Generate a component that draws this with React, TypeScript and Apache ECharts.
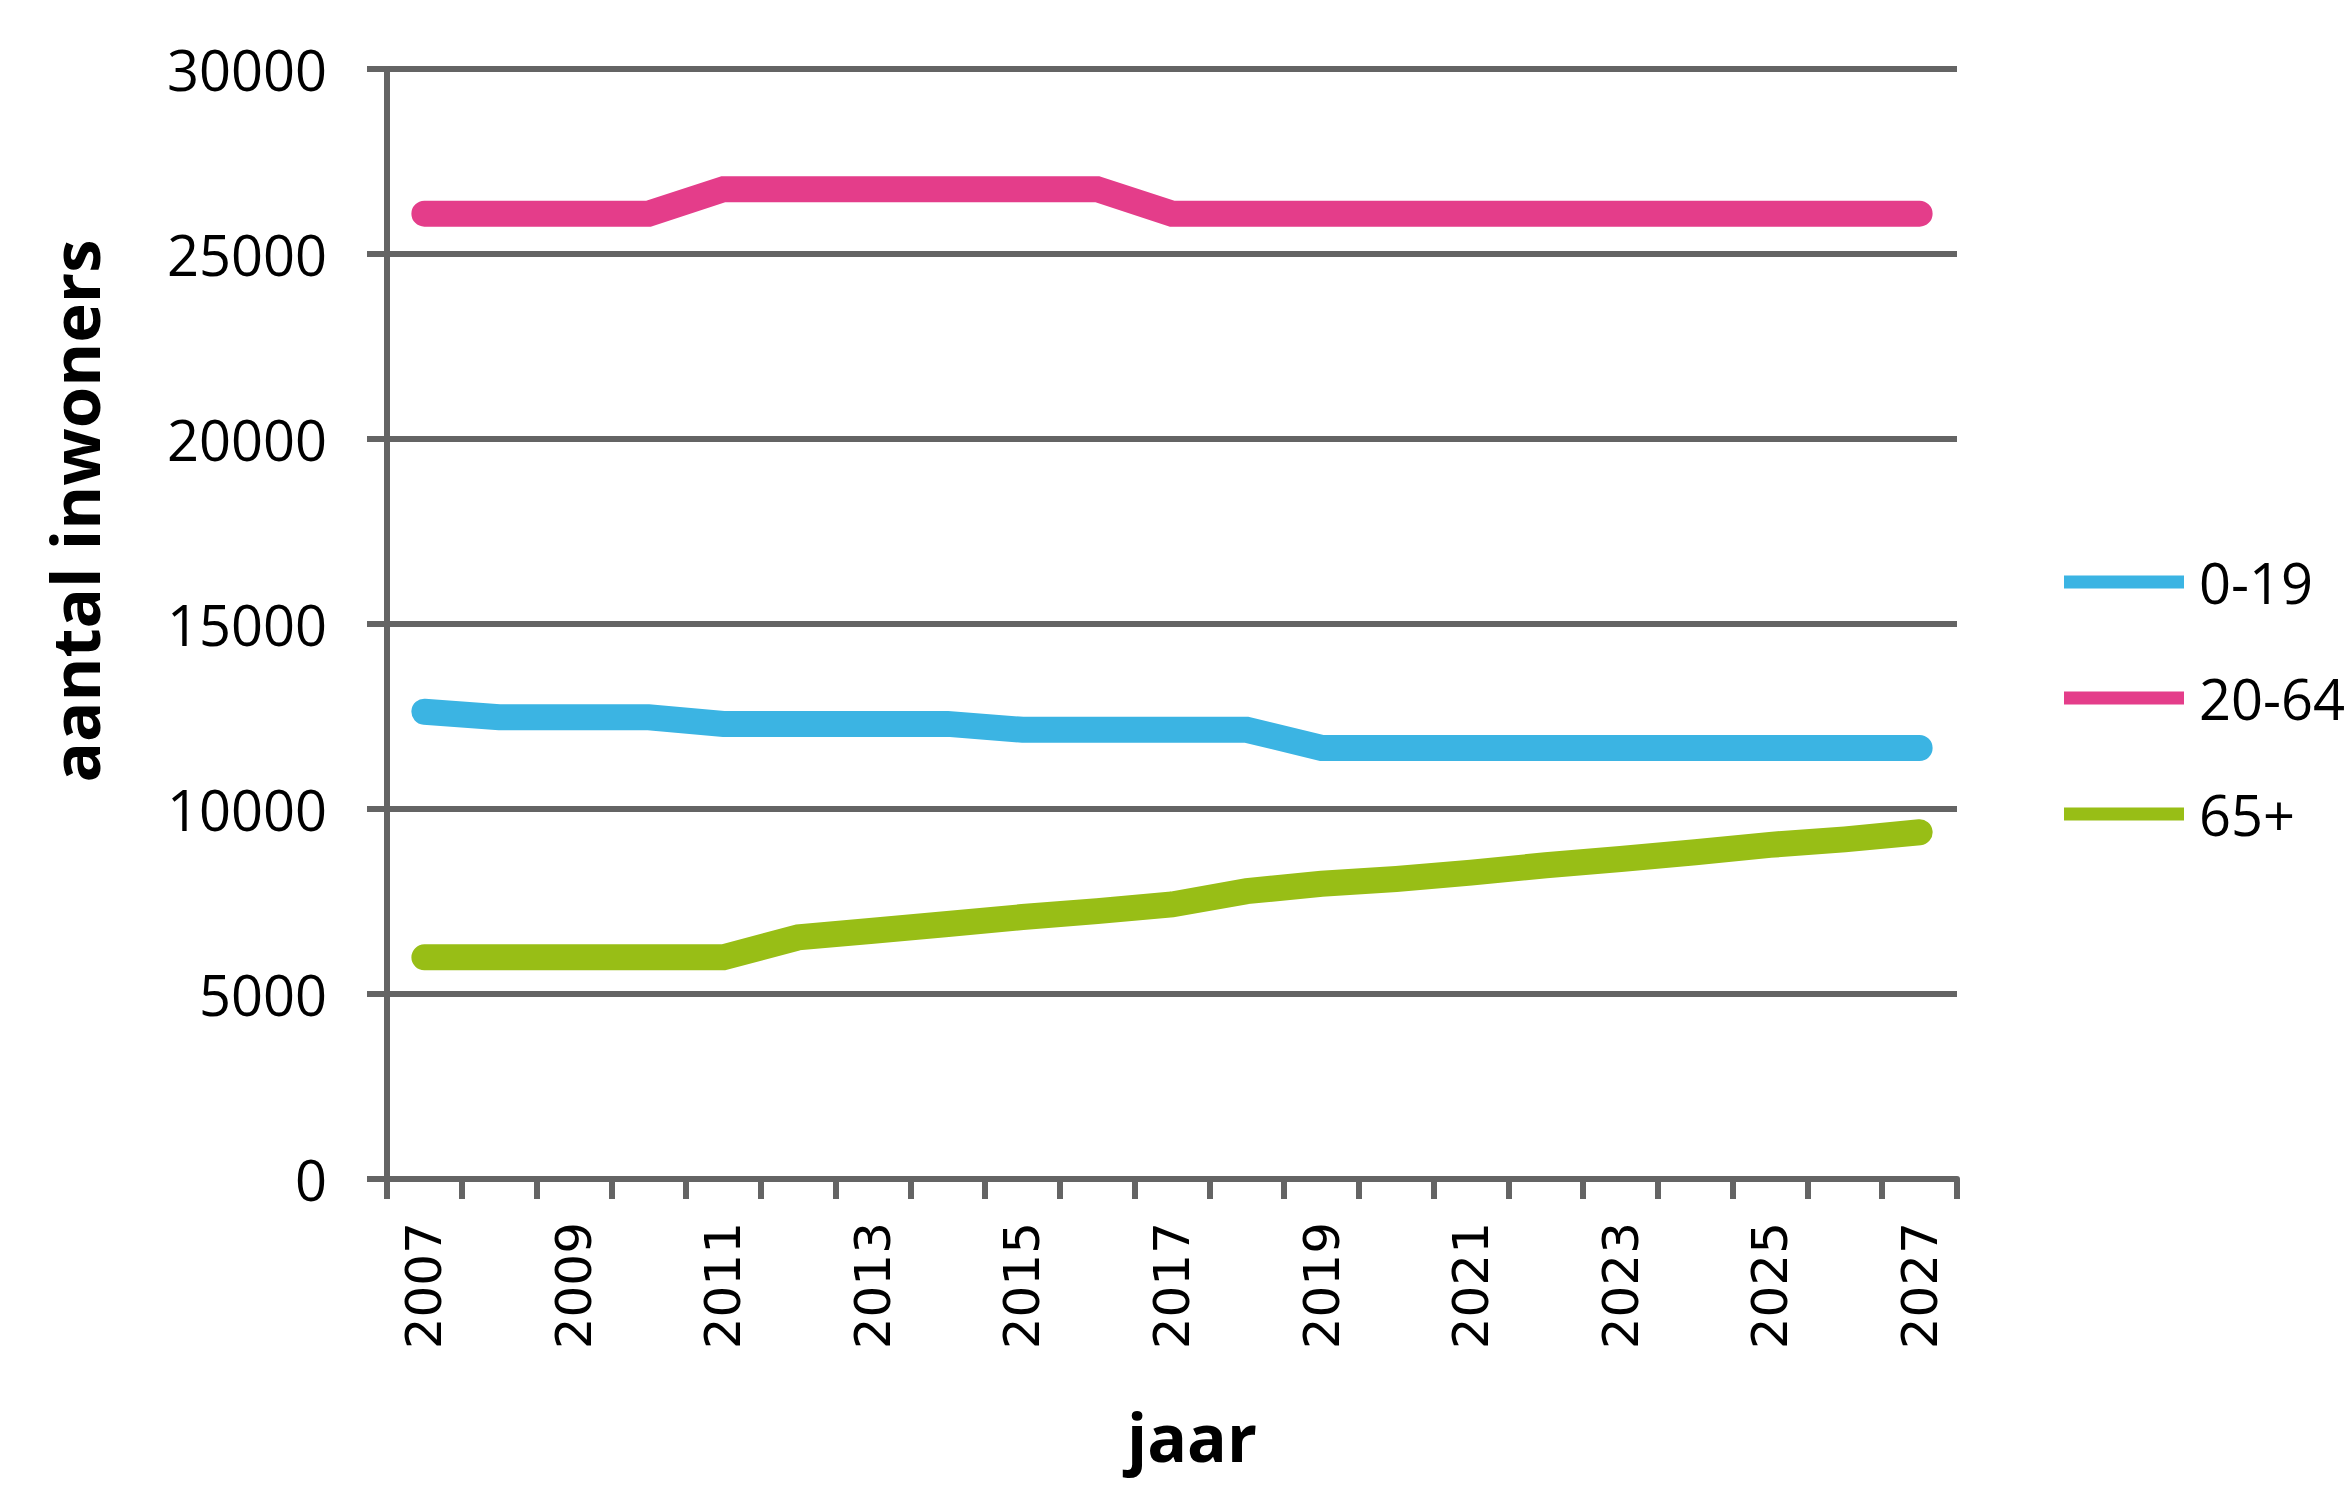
import React, { useEffect, useRef } from "react";
import * as echarts from "echarts";

const years = [
  "2007", "2008", "2009", "2010", "2011", "2012", "2013", "2014", "2015", "2016", "2017",
  "2018", "2019", "2020", "2021", "2022", "2023", "2024", "2025", "2026", "2027",
];

const age0to19 = [
  12630, 12480, 12480, 12480, 12300, 12300, 12300, 12300, 12140, 12140, 12140,
  12140, 11650, 11650, 11650, 11650, 11650, 11650, 11650, 11650, 11650,
];

const age20to64 = [
  26090, 26090, 26090, 26090, 26750, 26750, 26750, 26750, 26750, 26750, 26090,
  26090, 26090, 26090, 26090, 26090, 26090, 26090, 26090, 26090, 26090,
];

const age65plus = [
  5990, 5990, 5990, 5990, 5990, 6530, 6710, 6890, 7080, 7240, 7420,
  7780, 7980, 8110, 8280, 8480, 8650, 8830, 9030, 9180, 9370,
];

const seriesNames = ["0-19", "20-64", "65+"];
const seriesColors = ["#3BB4E3", "#E43D8A", "#98BE16"];

const yMin = 0;
const yMax = 30000;
const yStep = 5000;

const yTitle = "aantal inwoners";
const xTitle = "jaar";

const axisGray = "#646464";

export default function App() {
  const ref = useRef<HTMLDivElement>(null);

  useEffect(() => {
    if (!ref.current) return;
    const chart = echarts.init(ref.current, undefined, { renderer: "svg" });
    const seriesData = [age0to19, age20to64, age65plus];
    chart.setOption({
      animation: false,
      backgroundColor: "#ffffff",
      grid: { left: 387, right: 394, top: 69, bottom: 306, containLabel: false },
      xAxis: {
        type: "category",
        data: years,
        boundaryGap: true,
        axisLine: { show: true, lineStyle: { color: axisGray, width: 6 } },
        axisTick: { show: true, interval: 0, length: 20, lineStyle: { color: axisGray, width: 6 } },
        axisLabel: {
          interval: 1,
          rotate: 90,
          margin: 43,
          fontFamily: "DejaVu Sans",
          fontSize: 50,
          color: "#000000",
        },
        splitLine: { show: false },
      },
      yAxis: {
        type: "value",
        min: yMin,
        max: yMax,
        interval: yStep,
        axisLine: { show: true, lineStyle: { color: axisGray, width: 6 } },
        axisTick: { show: true, length: 20, lineStyle: { color: axisGray, width: 6 } },
        splitLine: { show: true, lineStyle: { color: axisGray, width: 6 } },
        axisLabel: {
          margin: 60,
          fontFamily: "Open Sans",
          fontSize: 56,
          color: "#000000",
          formatter: (v: number) => String(v),
        },
      },
      legend: {
        orient: "vertical",
        left: 2059,
        top: 549,
        itemWidth: 120,
        itemHeight: 13,
        itemGap: 60,
        icon: "rect",
        itemStyle: { borderWidth: 0 },
        textStyle: {
          fontFamily: "Open Sans",
          fontSize: 56,
          lineHeight: 56,
          color: "#000000",
          padding: [0, 0, 0, 10],
        },
        data: seriesNames,
      },
      series: seriesNames.map((name, i) => ({
        name,
        type: "line",
        data: seriesData[i],
        showSymbol: false,
        symbol: "none",
        color: seriesColors[i],
        itemStyle: { color: seriesColors[i] },
        lineStyle: { color: seriesColors[i], width: 26, cap: "round", join: "miter" },
      })),
      graphic: [
        {
          type: "text",
          x: 74,
          y: 511,
          rotation: Math.PI / 2,
          style: {
            text: yTitle,
            fontFamily: "Open Sans",
            fontWeight: "bold",
            fontSize: 67,
            fill: "#000000",
            align: "center",
            verticalAlign: "middle",
          },
        },
        {
          type: "text",
          x: 1192,
          y: 1436,
          style: {
            text: xTitle,
            fontFamily: "Open Sans",
            fontWeight: "bold",
            fontSize: 66,
            fill: "#000000",
            align: "center",
            verticalAlign: "middle",
          },
        },
      ],
    });
    return () => chart.dispose();
  }, []);

  return (
    <div
      ref={ref}
      style={{ position: "absolute", left: 0, top: 0, width: 2351, height: 1485, background: "#ffffff" }}
    />
  );
}
